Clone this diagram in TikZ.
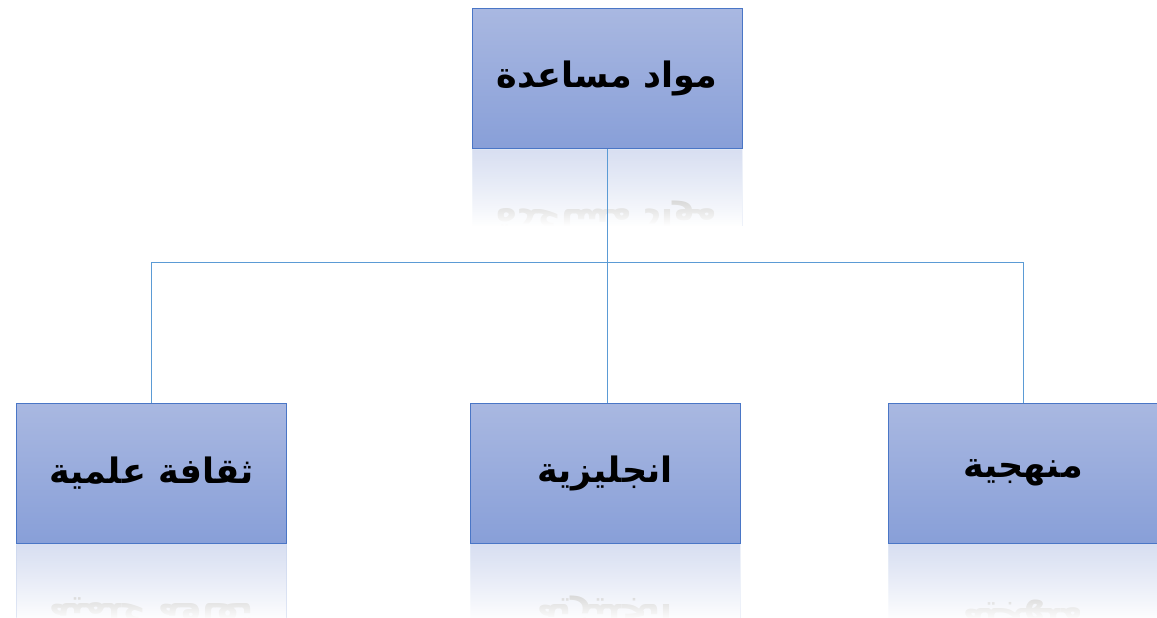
\documentclass[tikz,border=0pt]{standalone}
\usepackage{fontspec}
\usetikzlibrary{fadings}
\TeXXeTstate=1
\newfontfamily\arabicfont[Script=Arabic]{DejaVu Sans}
\definecolor{boxtop}{HTML}{A9B8E1}
\definecolor{boxbot}{HTML}{889FD8}
\definecolor{boxline}{HTML}{4A76C6}
\definecolor{linkline}{HTML}{5B9BD5}
\tikzfading[name=reflfade, top color=transparent!45, bottom color=transparent!0]
\tikzset{
  subject/.style={draw=boxline, line width=1pt, top color=boxtop, bottom color=boxbot,
    minimum width=270pt, minimum height=140pt, inner sep=0pt,
    font=\arabicfont\fontsize{35}{40}\selectfont\bfseries},
  link/.style={draw=linkline, line width=0.8pt}
}
% Faded mirror image under a box
\newcommand{\mirror}[2]{
  \begin{scope}
    \clip ([xshift=0.3pt,yshift=-0.5pt]#1.south west) rectangle ([xshift=-0.3pt,yshift=-76pt]#1.south east);
    \node[subject, draw=boxline!40, yscale=-1, transform shape] at ([yshift=-70pt]#1.south) {#2};
    \fill[white, path fading=reflfade] ([xshift=-2pt,yshift=-0.5pt]#1.south west) rectangle ([xshift=2pt,yshift=-77pt]#1.south east);
  \end{scope}
}

\begin{document}
\begin{tikzpicture}[x=1pt, y=-1pt]
  \useasboundingbox (0,0) rectangle (1157,618);

  % The boxes
  \node[subject] (root) at (607,78.5) {\beginR مواد مساعدة\endR};
  \node[subject] (science) at (151.5,473) {\beginR ثقافة علمية\endR};
  \node[subject] (english) at (605,473) {\beginR انجليزية\endR};
  \node[subject] (method) at (1023,473) {\beginR منهجية\endR};

  % Reflections
  \mirror{root}{\beginR مواد مساعدة\endR}
  \mirror{science}{\beginR ثقافة علمية\endR}
  \mirror{english}{\beginR انجليزية\endR}
  \mirror{method}{\beginR منهجية\endR}

  % The links
  \coordinate (bus) at (607,262);
  \draw[link] (root.south) -- (bus);
  \draw[link] (science.north |- bus) -- (method.north |- bus);
  \draw[link] (science.north |- bus) -- (science.north);
  \draw[link] (bus) -- (english.north -| bus);
  \draw[link] (method.north |- bus) -- (method.north);
\end{tikzpicture}
\end{document}
